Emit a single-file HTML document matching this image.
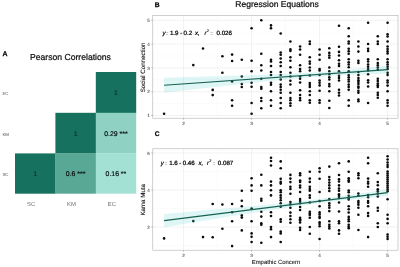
<!DOCTYPE html>
<html><head><meta charset="utf-8"><title>Figure</title>
<style>html,body{margin:0;padding:0;background:#fff;overflow:hidden}svg{display:block;will-change:transform}</style>
</head><body>
<svg width="400" height="267" viewBox="0 0 400 267" font-family="Liberation Sans, sans-serif" text-rendering="geometricPrecision">
<rect width="400" height="267" fill="#ffffff"/>
<text x="2.4" y="56" font-size="6.9" font-weight="bold" fill="#000" stroke="#000" stroke-width="0.25">A</text>
<text x="30" y="59.6" font-size="8.7" fill="#111" stroke="#111" stroke-width="0.24" textLength="80.9" lengthAdjust="spacingAndGlyphs">Pearson Correlations</text>
<rect x="95.8" y="72.0" width="40.4" height="41.0" fill="#16725e"/>
<text x="115.9" y="94.8" font-size="6.9" fill="#0a2f27" stroke="#0a2f27" stroke-width="0.12" text-anchor="middle">1</text>
<rect x="55.4" y="112.8" width="40.6" height="40.8" fill="#16725e"/>
<text x="75.6" y="135.5" font-size="6.9" fill="#0a2f27" stroke="#0a2f27" stroke-width="0.12" text-anchor="middle">1</text>
<rect x="95.8" y="112.8" width="40.4" height="40.8" fill="#8fd1c3"/>
<text x="115.9" y="135.5" font-size="6.9" fill="#0a100f" stroke="#0a100f" stroke-width="0.18" text-anchor="middle">0.29 ***</text>
<rect x="15.0" y="153.4" width="40.6" height="40.3" fill="#16725e"/>
<text x="35.2" y="175.8" font-size="6.9" fill="#0a2f27" stroke="#0a2f27" stroke-width="0.12" text-anchor="middle">1</text>
<rect x="55.4" y="153.4" width="40.6" height="40.3" fill="#59a895"/>
<text x="75.6" y="175.8" font-size="6.9" fill="#0a100f" stroke="#0a100f" stroke-width="0.18" text-anchor="middle">0.6 ***</text>
<rect x="95.8" y="153.4" width="40.4" height="40.3" fill="#a2e1d3"/>
<text x="115.9" y="175.8" font-size="6.9" fill="#0a100f" stroke="#0a100f" stroke-width="0.18" text-anchor="middle">0.16 **</text>
<text x="31.1" y="205.9" font-size="5.9" fill="#6e6e6e" text-anchor="middle">SC</text>
<text x="71.5" y="205.9" font-size="5.9" fill="#6e6e6e" text-anchor="middle">KM</text>
<text x="111.8" y="205.9" font-size="5.9" fill="#6e6e6e" text-anchor="middle">EC</text>
<text x="2.4" y="94.8" font-size="4.4" fill="#505050">EC</text>
<text x="2.4" y="135.5" font-size="4.4" fill="#505050">KM</text>
<text x="2.4" y="175.8" font-size="4.4" fill="#505050">SC</text>
<text x="154.7" y="6.8" font-size="6.7" font-weight="bold" fill="#000" stroke="#000" stroke-width="0.25">B</text>
<text x="235.3" y="7.3" font-size="8.5" fill="#111" stroke="#111" stroke-width="0.24" textLength="83.5" lengthAdjust="spacingAndGlyphs">Regression Equations</text>
<line x1="152.8" x2="398.0" y1="103.6" y2="103.6" stroke="#f4f4f4" stroke-width="0.4"/>
<line x1="152.8" x2="398.0" y1="79.8" y2="79.8" stroke="#f4f4f4" stroke-width="0.4"/>
<line x1="152.8" x2="398.0" y1="56.0" y2="56.0" stroke="#f4f4f4" stroke-width="0.4"/>
<line x1="152.8" x2="398.0" y1="32.2" y2="32.2" stroke="#f4f4f4" stroke-width="0.4"/>
<line x1="152.8" x2="398.0" y1="115.5" y2="115.5" stroke="#e9e9e9" stroke-width="0.6"/>
<line x1="152.8" x2="398.0" y1="91.7" y2="91.7" stroke="#e9e9e9" stroke-width="0.6"/>
<line x1="152.8" x2="398.0" y1="67.9" y2="67.9" stroke="#e9e9e9" stroke-width="0.6"/>
<line x1="152.8" x2="398.0" y1="44.1" y2="44.1" stroke="#e9e9e9" stroke-width="0.6"/>
<line x1="152.8" x2="398.0" y1="20.3" y2="20.3" stroke="#e9e9e9" stroke-width="0.6"/>
<line y1="15.5" y2="118.2" x1="217.6" x2="217.6" stroke="#f4f4f4" stroke-width="0.4"/>
<line y1="15.5" y2="118.2" x1="285.6" x2="285.6" stroke="#f4f4f4" stroke-width="0.4"/>
<line y1="15.5" y2="118.2" x1="353.6" x2="353.6" stroke="#f4f4f4" stroke-width="0.4"/>
<line y1="15.5" y2="118.2" x1="183.6" x2="183.6" stroke="#e9e9e9" stroke-width="0.6"/>
<line y1="15.5" y2="118.2" x1="251.6" x2="251.6" stroke="#e9e9e9" stroke-width="0.6"/>
<line y1="15.5" y2="118.2" x1="319.6" x2="319.6" stroke="#e9e9e9" stroke-width="0.6"/>
<line y1="15.5" y2="118.2" x1="387.6" x2="387.6" stroke="#e9e9e9" stroke-width="0.6"/>
<g fill="#0a0a0a"><circle cx="164.1" cy="113.8" r="1.3"/>
<circle cx="193.3" cy="65.1" r="1.3"/>
<circle cx="203.0" cy="48.5" r="1.3"/>
<circle cx="212.7" cy="89.9" r="1.3"/>
<circle cx="212.7" cy="95.1" r="1.3"/>
<circle cx="222.4" cy="56.3" r="1.3"/>
<circle cx="222.4" cy="72.8" r="1.3"/>
<circle cx="232.1" cy="54.6" r="1.3"/>
<circle cx="232.1" cy="61.0" r="1.3"/>
<circle cx="232.1" cy="81.4" r="1.3"/>
<circle cx="232.1" cy="100.3" r="1.3"/>
<circle cx="232.1" cy="105.8" r="1.3"/>
<circle cx="241.8" cy="59.7" r="1.3"/>
<circle cx="241.8" cy="76.5" r="1.3"/>
<circle cx="241.8" cy="84.0" r="1.3"/>
<circle cx="241.8" cy="87.0" r="1.3"/>
<circle cx="251.6" cy="28.3" r="1.3"/>
<circle cx="251.6" cy="60.8" r="1.3"/>
<circle cx="251.6" cy="71.2" r="1.3"/>
<circle cx="251.6" cy="82.8" r="1.3"/>
<circle cx="251.6" cy="86.7" r="1.3"/>
<circle cx="251.6" cy="103.0" r="1.3"/>
<circle cx="251.6" cy="113.8" r="1.3"/>
<circle cx="261.3" cy="20.3" r="1.3"/>
<circle cx="261.3" cy="53.7" r="1.3"/>
<circle cx="261.3" cy="65.2" r="1.3"/>
<circle cx="261.3" cy="70.5" r="1.3"/>
<circle cx="261.3" cy="78.8" r="1.3"/>
<circle cx="261.3" cy="87.0" r="1.3"/>
<circle cx="261.3" cy="88.7" r="1.3"/>
<circle cx="261.3" cy="98.0" r="1.3"/>
<circle cx="261.3" cy="101.0" r="1.3"/>
<circle cx="261.3" cy="108.2" r="1.3"/>
<circle cx="271.0" cy="25.4" r="1.3"/>
<circle cx="271.0" cy="28.3" r="1.3"/>
<circle cx="271.0" cy="59.7" r="1.3"/>
<circle cx="271.0" cy="61.5" r="1.3"/>
<circle cx="271.0" cy="66.0" r="1.3"/>
<circle cx="271.0" cy="72.0" r="1.3"/>
<circle cx="271.0" cy="75.0" r="1.3"/>
<circle cx="271.0" cy="82.8" r="1.3"/>
<circle cx="271.0" cy="84.8" r="1.3"/>
<circle cx="271.0" cy="91.2" r="1.3"/>
<circle cx="271.0" cy="100.2" r="1.3"/>
<circle cx="271.0" cy="105.8" r="1.3"/>
<circle cx="280.7" cy="33.5" r="1.3"/>
<circle cx="280.7" cy="52.5" r="1.3"/>
<circle cx="280.7" cy="54.8" r="1.3"/>
<circle cx="280.7" cy="58.5" r="1.3"/>
<circle cx="280.7" cy="62.2" r="1.3"/>
<circle cx="280.7" cy="66.0" r="1.3"/>
<circle cx="280.7" cy="72.0" r="1.3"/>
<circle cx="280.7" cy="75.0" r="1.3"/>
<circle cx="280.7" cy="79.5" r="1.3"/>
<circle cx="280.7" cy="84.6" r="1.3"/>
<circle cx="280.7" cy="87.0" r="1.3"/>
<circle cx="280.7" cy="89.8" r="1.3"/>
<circle cx="280.7" cy="92.8" r="1.3"/>
<circle cx="280.7" cy="98.0" r="1.3"/>
<circle cx="280.7" cy="103.0" r="1.3"/>
<circle cx="280.7" cy="108.2" r="1.3"/>
<circle cx="290.4" cy="41.5" r="1.3"/>
<circle cx="290.4" cy="49.4" r="1.3"/>
<circle cx="290.4" cy="51.0" r="1.3"/>
<circle cx="290.4" cy="57.3" r="1.3"/>
<circle cx="290.4" cy="60.8" r="1.3"/>
<circle cx="290.4" cy="67.2" r="1.3"/>
<circle cx="290.4" cy="72.8" r="1.3"/>
<circle cx="290.4" cy="76.5" r="1.3"/>
<circle cx="290.4" cy="80.7" r="1.3"/>
<circle cx="290.4" cy="84.5" r="1.3"/>
<circle cx="290.4" cy="92.8" r="1.3"/>
<circle cx="290.4" cy="98.0" r="1.3"/>
<circle cx="290.4" cy="100.2" r="1.3"/>
<circle cx="290.4" cy="103.2" r="1.3"/>
<circle cx="290.4" cy="105.8" r="1.3"/>
<circle cx="300.1" cy="46.5" r="1.3"/>
<circle cx="300.1" cy="49.5" r="1.3"/>
<circle cx="300.1" cy="54.8" r="1.3"/>
<circle cx="300.1" cy="65.2" r="1.3"/>
<circle cx="300.1" cy="69.0" r="1.3"/>
<circle cx="300.1" cy="71.2" r="1.3"/>
<circle cx="300.1" cy="76.5" r="1.3"/>
<circle cx="300.1" cy="78.8" r="1.3"/>
<circle cx="300.1" cy="82.5" r="1.3"/>
<circle cx="300.1" cy="90.2" r="1.3"/>
<circle cx="300.1" cy="95.0" r="1.3"/>
<circle cx="300.1" cy="98.0" r="1.3"/>
<circle cx="300.1" cy="100.2" r="1.3"/>
<circle cx="309.8" cy="41.5" r="1.3"/>
<circle cx="309.8" cy="44.0" r="1.3"/>
<circle cx="309.8" cy="57.3" r="1.3"/>
<circle cx="309.8" cy="61.5" r="1.3"/>
<circle cx="309.8" cy="63.8" r="1.3"/>
<circle cx="309.8" cy="67.5" r="1.3"/>
<circle cx="309.8" cy="70.5" r="1.3"/>
<circle cx="309.8" cy="75.5" r="1.3"/>
<circle cx="309.8" cy="83.1" r="1.3"/>
<circle cx="309.8" cy="85.0" r="1.3"/>
<circle cx="309.8" cy="87.0" r="1.3"/>
<circle cx="309.8" cy="91.2" r="1.3"/>
<circle cx="309.8" cy="95.0" r="1.3"/>
<circle cx="309.8" cy="100.2" r="1.3"/>
<circle cx="309.8" cy="102.8" r="1.3"/>
<circle cx="319.6" cy="49.5" r="1.3"/>
<circle cx="319.6" cy="54.8" r="1.3"/>
<circle cx="319.6" cy="59.7" r="1.3"/>
<circle cx="319.6" cy="69.0" r="1.3"/>
<circle cx="319.6" cy="70.5" r="1.3"/>
<circle cx="319.6" cy="75.0" r="1.3"/>
<circle cx="319.6" cy="80.5" r="1.3"/>
<circle cx="319.6" cy="82.8" r="1.3"/>
<circle cx="319.6" cy="85.4" r="1.3"/>
<circle cx="319.6" cy="90.8" r="1.3"/>
<circle cx="319.6" cy="100.2" r="1.3"/>
<circle cx="319.6" cy="102.8" r="1.3"/>
<circle cx="329.3" cy="48.2" r="1.3"/>
<circle cx="329.3" cy="52.9" r="1.3"/>
<circle cx="329.3" cy="55.5" r="1.3"/>
<circle cx="329.3" cy="57.8" r="1.3"/>
<circle cx="329.3" cy="67.5" r="1.3"/>
<circle cx="329.3" cy="71.2" r="1.3"/>
<circle cx="329.3" cy="74.2" r="1.3"/>
<circle cx="329.3" cy="77.2" r="1.3"/>
<circle cx="329.3" cy="79.5" r="1.3"/>
<circle cx="329.3" cy="84.0" r="1.3"/>
<circle cx="329.3" cy="86.2" r="1.3"/>
<circle cx="329.3" cy="91.2" r="1.3"/>
<circle cx="329.3" cy="100.7" r="1.3"/>
<circle cx="329.3" cy="108.0" r="1.3"/>
<circle cx="339.0" cy="25.7" r="1.3"/>
<circle cx="339.0" cy="46.7" r="1.3"/>
<circle cx="339.0" cy="51.9" r="1.3"/>
<circle cx="339.0" cy="55.5" r="1.3"/>
<circle cx="339.0" cy="60.3" r="1.3"/>
<circle cx="339.0" cy="63.8" r="1.3"/>
<circle cx="339.0" cy="66.0" r="1.3"/>
<circle cx="339.0" cy="71.2" r="1.3"/>
<circle cx="339.0" cy="75.8" r="1.3"/>
<circle cx="339.0" cy="78.0" r="1.3"/>
<circle cx="339.0" cy="80.5" r="1.3"/>
<circle cx="339.0" cy="89.8" r="1.3"/>
<circle cx="339.0" cy="92.8" r="1.3"/>
<circle cx="339.0" cy="95.5" r="1.3"/>
<circle cx="348.7" cy="28.2" r="1.3"/>
<circle cx="348.7" cy="36.2" r="1.3"/>
<circle cx="348.7" cy="41.5" r="1.3"/>
<circle cx="348.7" cy="43.5" r="1.3"/>
<circle cx="348.7" cy="48.8" r="1.3"/>
<circle cx="348.7" cy="51.2" r="1.3"/>
<circle cx="348.7" cy="53.8" r="1.3"/>
<circle cx="348.7" cy="59.2" r="1.3"/>
<circle cx="348.7" cy="62.2" r="1.3"/>
<circle cx="348.7" cy="64.5" r="1.3"/>
<circle cx="348.7" cy="67.2" r="1.3"/>
<circle cx="348.7" cy="71.2" r="1.3"/>
<circle cx="348.7" cy="75.0" r="1.3"/>
<circle cx="348.7" cy="77.2" r="1.3"/>
<circle cx="348.7" cy="79.5" r="1.3"/>
<circle cx="348.7" cy="81.5" r="1.3"/>
<circle cx="348.7" cy="84.6" r="1.3"/>
<circle cx="348.7" cy="86.9" r="1.3"/>
<circle cx="348.7" cy="89.8" r="1.3"/>
<circle cx="348.7" cy="100.2" r="1.3"/>
<circle cx="348.7" cy="105.8" r="1.3"/>
<circle cx="358.4" cy="41.5" r="1.3"/>
<circle cx="358.4" cy="46.5" r="1.3"/>
<circle cx="358.4" cy="51.6" r="1.3"/>
<circle cx="358.4" cy="60.8" r="1.3"/>
<circle cx="358.4" cy="63.0" r="1.3"/>
<circle cx="358.4" cy="72.0" r="1.3"/>
<circle cx="358.4" cy="75.0" r="1.3"/>
<circle cx="358.4" cy="78.0" r="1.3"/>
<circle cx="358.4" cy="80.2" r="1.3"/>
<circle cx="358.4" cy="82.0" r="1.3"/>
<circle cx="358.4" cy="84.0" r="1.3"/>
<circle cx="358.4" cy="86.5" r="1.3"/>
<circle cx="358.4" cy="87.8" r="1.3"/>
<circle cx="358.4" cy="90.8" r="1.3"/>
<circle cx="358.4" cy="92.8" r="1.3"/>
<circle cx="358.4" cy="99.5" r="1.3"/>
<circle cx="358.4" cy="101.3" r="1.3"/>
<circle cx="368.1" cy="22.7" r="1.3"/>
<circle cx="368.1" cy="44.0" r="1.3"/>
<circle cx="368.1" cy="48.8" r="1.3"/>
<circle cx="368.1" cy="51.0" r="1.3"/>
<circle cx="368.1" cy="59.2" r="1.3"/>
<circle cx="368.1" cy="61.5" r="1.3"/>
<circle cx="368.1" cy="64.5" r="1.3"/>
<circle cx="368.1" cy="66.8" r="1.3"/>
<circle cx="368.1" cy="69.0" r="1.3"/>
<circle cx="368.1" cy="70.5" r="1.3"/>
<circle cx="368.1" cy="74.2" r="1.3"/>
<circle cx="368.1" cy="80.2" r="1.3"/>
<circle cx="368.1" cy="82.5" r="1.3"/>
<circle cx="368.1" cy="86.5" r="1.3"/>
<circle cx="368.1" cy="103.0" r="1.3"/>
<circle cx="377.8" cy="36.2" r="1.3"/>
<circle cx="377.8" cy="41.5" r="1.3"/>
<circle cx="377.8" cy="44.0" r="1.3"/>
<circle cx="377.8" cy="59.2" r="1.3"/>
<circle cx="377.8" cy="63.0" r="1.3"/>
<circle cx="377.8" cy="65.2" r="1.3"/>
<circle cx="377.8" cy="67.5" r="1.3"/>
<circle cx="377.8" cy="69.8" r="1.3"/>
<circle cx="377.8" cy="78.8" r="1.3"/>
<circle cx="377.8" cy="81.0" r="1.3"/>
<circle cx="377.8" cy="83.5" r="1.3"/>
<circle cx="377.8" cy="85.2" r="1.3"/>
<circle cx="377.8" cy="87.0" r="1.3"/>
<circle cx="377.8" cy="92.8" r="1.3"/>
<circle cx="377.8" cy="95.0" r="1.3"/>
<circle cx="377.8" cy="97.7" r="1.3"/>
<circle cx="387.6" cy="22.7" r="1.3"/>
<circle cx="387.6" cy="34.2" r="1.3"/>
<circle cx="387.6" cy="36.5" r="1.3"/>
<circle cx="387.6" cy="41.5" r="1.3"/>
<circle cx="387.6" cy="46.5" r="1.3"/>
<circle cx="387.6" cy="49.0" r="1.3"/>
<circle cx="387.6" cy="51.2" r="1.3"/>
<circle cx="387.6" cy="53.4" r="1.3"/>
<circle cx="387.6" cy="59.2" r="1.3"/>
<circle cx="387.6" cy="62.2" r="1.3"/>
<circle cx="387.6" cy="64.5" r="1.3"/>
<circle cx="387.6" cy="66.8" r="1.3"/>
<circle cx="387.6" cy="69.0" r="1.3"/>
<circle cx="387.6" cy="72.8" r="1.3"/>
<circle cx="387.6" cy="75.0" r="1.3"/>
<circle cx="387.6" cy="80.5" r="1.3"/>
<circle cx="387.6" cy="82.5" r="1.3"/>
<circle cx="387.6" cy="85.6" r="1.3"/>
<circle cx="387.6" cy="91.2" r="1.3"/>
<circle cx="387.6" cy="100.2" r="1.3"/>
<circle cx="387.6" cy="102.8" r="1.3"/>
<circle cx="387.6" cy="105.8" r="1.3"/></g>
<path d="M164.1,77.7 L169.7,77.6 L175.3,77.4 L180.9,77.3 L186.4,77.1 L192.0,77.0 L197.6,76.8 L203.2,76.6 L208.8,76.5 L214.4,76.3 L220.0,76.2 L225.6,76.0 L231.1,75.8 L236.7,75.6 L242.3,75.5 L247.9,75.3 L253.5,75.1 L259.1,74.9 L264.7,74.7 L270.2,74.5 L275.8,74.3 L281.4,74.0 L287.0,73.8 L292.6,73.5 L298.2,73.2 L303.8,72.9 L309.3,72.6 L314.9,72.2 L320.5,71.9 L326.1,71.4 L331.7,71.0 L337.3,70.5 L342.9,70.1 L348.4,69.6 L354.0,69.0 L359.6,68.5 L365.2,67.9 L370.8,67.4 L376.4,66.8 L382.0,66.2 L387.6,65.6 L387.6,73.5 L382.0,73.7 L376.4,73.9 L370.8,74.1 L365.2,74.3 L359.6,74.5 L354.0,74.8 L348.4,75.0 L342.9,75.3 L337.3,75.6 L331.7,75.9 L326.1,76.3 L320.5,76.7 L314.9,77.1 L309.3,77.5 L303.8,77.9 L298.2,78.4 L292.6,78.9 L287.0,79.4 L281.4,80.0 L275.8,80.5 L270.2,81.1 L264.7,81.6 L259.1,82.2 L253.5,82.8 L247.9,83.4 L242.3,84.0 L236.7,84.6 L231.1,85.2 L225.6,85.8 L220.0,86.4 L214.4,87.1 L208.8,87.7 L203.2,88.3 L197.6,88.9 L192.0,89.6 L186.4,90.2 L180.9,90.8 L175.3,91.4 L169.7,92.1 L164.1,92.7Z" fill="#58d8d0" fill-opacity="0.2"/>
<line x1="164.1" y1="85.2" x2="387.6" y2="69.6" stroke="#17604f" stroke-width="1.1"/>
<rect x="152.8" y="15.5" width="245.2" height="102.7" fill="none" stroke="#aaaaaa" stroke-width="0.55"/>
<line x1="151.20000000000002" x2="152.8" y1="115.5" y2="115.5" stroke="#8a8a8a" stroke-width="0.5"/>
<text x="149.8" y="117.2" font-size="4.6" fill="#444" stroke="#444" stroke-width="0.06" text-anchor="end">1</text>
<line x1="151.20000000000002" x2="152.8" y1="91.7" y2="91.7" stroke="#8a8a8a" stroke-width="0.5"/>
<text x="149.8" y="93.4" font-size="4.6" fill="#444" stroke="#444" stroke-width="0.06" text-anchor="end">2</text>
<line x1="151.20000000000002" x2="152.8" y1="67.9" y2="67.9" stroke="#8a8a8a" stroke-width="0.5"/>
<text x="149.8" y="69.6" font-size="4.6" fill="#444" stroke="#444" stroke-width="0.06" text-anchor="end">3</text>
<line x1="151.20000000000002" x2="152.8" y1="44.1" y2="44.1" stroke="#8a8a8a" stroke-width="0.5"/>
<text x="149.8" y="45.7" font-size="4.6" fill="#444" stroke="#444" stroke-width="0.06" text-anchor="end">4</text>
<line x1="151.20000000000002" x2="152.8" y1="20.3" y2="20.3" stroke="#8a8a8a" stroke-width="0.5"/>
<text x="149.8" y="21.9" font-size="4.6" fill="#444" stroke="#444" stroke-width="0.06" text-anchor="end">5</text>
<line y1="118.2" y2="119.8" x1="183.6" x2="183.6" stroke="#8a8a8a" stroke-width="0.5"/>
<text x="183.6" y="124.8" font-size="4.6" fill="#444" stroke="#444" stroke-width="0.06" text-anchor="middle">2</text>
<line y1="118.2" y2="119.8" x1="251.6" x2="251.6" stroke="#8a8a8a" stroke-width="0.5"/>
<text x="251.6" y="124.8" font-size="4.6" fill="#444" stroke="#444" stroke-width="0.06" text-anchor="middle">3</text>
<line y1="118.2" y2="119.8" x1="319.6" x2="319.6" stroke="#8a8a8a" stroke-width="0.5"/>
<text x="319.6" y="124.8" font-size="4.6" fill="#444" stroke="#444" stroke-width="0.06" text-anchor="middle">4</text>
<line y1="118.2" y2="119.8" x1="387.6" x2="387.6" stroke="#8a8a8a" stroke-width="0.5"/>
<text x="387.6" y="124.8" font-size="4.6" fill="#444" stroke="#444" stroke-width="0.06" text-anchor="middle">5</text>
<g font-size="6" fill="#000"><text x="162.4" y="34.9" font-style="italic" stroke="#000" stroke-width="0.18">y</text><text x="165.7" y="34.6" font-size="4.6" fill="#3a3a3a">=</text><text x="169.9" y="34.9" font-size="6.2" stroke="#000" stroke-width="0.22">1.9</text><text x="179.7" y="34.6" font-size="4.6" fill="#3a3a3a">+</text><text x="183.6" y="34.9" font-size="6.2" stroke="#000" stroke-width="0.22">0.2</text><text x="192.2" y="34.6" font-size="4.6" fill="#3a3a3a">·</text><text x="194.9" y="34.9" font-style="italic" stroke="#000" stroke-width="0.18">x,</text><text x="204.6" y="34.9" font-style="italic" stroke="#000" stroke-width="0.18">r</text><text x="206.8" y="32.4" font-size="3.9" stroke="#000" stroke-width="0.08">2</text><text x="210.3" y="34.6" font-size="4.6" fill="#3a3a3a">=</text><text x="232" y="34.9" text-anchor="end" font-size="6.2" stroke="#000" stroke-width="0.22">0.026</text></g>
<text transform="translate(145.0,67.4) rotate(-90)" font-size="6.2" fill="#111" stroke="#111" stroke-width="0.1" text-anchor="middle">Social Connection</text>
<text x="154.7" y="135.5" font-size="6.7" font-weight="bold" fill="#000" stroke="#000" stroke-width="0.25">C</text>
<line x1="152.8" x2="398.0" y1="245.5" y2="245.5" stroke="#f4f4f4" stroke-width="0.4"/>
<line x1="152.8" x2="398.0" y1="208.5" y2="208.5" stroke="#f4f4f4" stroke-width="0.4"/>
<line x1="152.8" x2="398.0" y1="171.5" y2="171.5" stroke="#f4f4f4" stroke-width="0.4"/>
<line x1="152.8" x2="398.0" y1="227.0" y2="227.0" stroke="#e9e9e9" stroke-width="0.6"/>
<line x1="152.8" x2="398.0" y1="190.0" y2="190.0" stroke="#e9e9e9" stroke-width="0.6"/>
<line x1="152.8" x2="398.0" y1="153.0" y2="153.0" stroke="#e9e9e9" stroke-width="0.6"/>
<line y1="148.8" y2="250.2" x1="217.6" x2="217.6" stroke="#f4f4f4" stroke-width="0.4"/>
<line y1="148.8" y2="250.2" x1="285.6" x2="285.6" stroke="#f4f4f4" stroke-width="0.4"/>
<line y1="148.8" y2="250.2" x1="353.6" x2="353.6" stroke="#f4f4f4" stroke-width="0.4"/>
<line y1="148.8" y2="250.2" x1="183.6" x2="183.6" stroke="#e9e9e9" stroke-width="0.6"/>
<line y1="148.8" y2="250.2" x1="251.6" x2="251.6" stroke="#e9e9e9" stroke-width="0.6"/>
<line y1="148.8" y2="250.2" x1="319.6" x2="319.6" stroke="#e9e9e9" stroke-width="0.6"/>
<line y1="148.8" y2="250.2" x1="387.6" x2="387.6" stroke="#e9e9e9" stroke-width="0.6"/>
<g fill="#0a0a0a"><circle cx="164.1" cy="238.4" r="1.3"/>
<circle cx="193.3" cy="221.1" r="1.3"/>
<circle cx="203.0" cy="237.1" r="1.3"/>
<circle cx="212.7" cy="204.0" r="1.3"/>
<circle cx="212.7" cy="237.3" r="1.3"/>
<circle cx="222.4" cy="204.5" r="1.3"/>
<circle cx="222.4" cy="228.8" r="1.3"/>
<circle cx="232.1" cy="204.0" r="1.3"/>
<circle cx="232.1" cy="212.3" r="1.3"/>
<circle cx="232.1" cy="221.2" r="1.3"/>
<circle cx="232.1" cy="246.1" r="1.3"/>
<circle cx="241.8" cy="190.8" r="1.3"/>
<circle cx="241.8" cy="200.7" r="1.3"/>
<circle cx="241.8" cy="206.2" r="1.3"/>
<circle cx="241.8" cy="215.4" r="1.3"/>
<circle cx="241.8" cy="217.6" r="1.3"/>
<circle cx="241.8" cy="230.4" r="1.3"/>
<circle cx="251.6" cy="178.2" r="1.3"/>
<circle cx="251.6" cy="185.4" r="1.3"/>
<circle cx="251.6" cy="190.8" r="1.3"/>
<circle cx="251.6" cy="208.5" r="1.3"/>
<circle cx="251.6" cy="221.3" r="1.3"/>
<circle cx="251.6" cy="233.4" r="1.3"/>
<circle cx="251.6" cy="236.8" r="1.3"/>
<circle cx="251.6" cy="242.0" r="1.3"/>
<circle cx="261.3" cy="174.8" r="1.3"/>
<circle cx="261.3" cy="185.4" r="1.3"/>
<circle cx="261.3" cy="198.8" r="1.3"/>
<circle cx="261.3" cy="200.7" r="1.3"/>
<circle cx="261.3" cy="211.8" r="1.3"/>
<circle cx="261.3" cy="216.6" r="1.3"/>
<circle cx="261.3" cy="223.2" r="1.3"/>
<circle cx="261.3" cy="224.8" r="1.3"/>
<circle cx="261.3" cy="242.8" r="1.3"/>
<circle cx="271.0" cy="157.7" r="1.3"/>
<circle cx="271.0" cy="161.0" r="1.3"/>
<circle cx="271.0" cy="165.5" r="1.3"/>
<circle cx="271.0" cy="181.6" r="1.3"/>
<circle cx="271.0" cy="185.4" r="1.3"/>
<circle cx="271.0" cy="190.2" r="1.3"/>
<circle cx="271.0" cy="195.4" r="1.3"/>
<circle cx="271.0" cy="212.2" r="1.3"/>
<circle cx="271.0" cy="216.0" r="1.3"/>
<circle cx="271.0" cy="227.0" r="1.3"/>
<circle cx="271.0" cy="229.2" r="1.3"/>
<circle cx="271.0" cy="237.1" r="1.3"/>
<circle cx="280.7" cy="161.4" r="1.3"/>
<circle cx="280.7" cy="168.2" r="1.3"/>
<circle cx="280.7" cy="178.7" r="1.3"/>
<circle cx="280.7" cy="181.9" r="1.3"/>
<circle cx="280.7" cy="183.6" r="1.3"/>
<circle cx="280.7" cy="190.2" r="1.3"/>
<circle cx="280.7" cy="192.3" r="1.3"/>
<circle cx="280.7" cy="195.4" r="1.3"/>
<circle cx="280.7" cy="197.7" r="1.3"/>
<circle cx="280.7" cy="200.2" r="1.3"/>
<circle cx="280.7" cy="203.2" r="1.3"/>
<circle cx="280.7" cy="206.7" r="1.3"/>
<circle cx="280.7" cy="219.4" r="1.3"/>
<circle cx="280.7" cy="221.8" r="1.3"/>
<circle cx="280.7" cy="231.5" r="1.3"/>
<circle cx="280.7" cy="233.4" r="1.3"/>
<circle cx="280.7" cy="242.0" r="1.3"/>
<circle cx="290.4" cy="174.9" r="1.3"/>
<circle cx="290.4" cy="178.6" r="1.3"/>
<circle cx="290.4" cy="182.1" r="1.3"/>
<circle cx="290.4" cy="186.8" r="1.3"/>
<circle cx="290.4" cy="189.0" r="1.3"/>
<circle cx="290.4" cy="193.8" r="1.3"/>
<circle cx="290.4" cy="202.1" r="1.3"/>
<circle cx="290.4" cy="204.3" r="1.3"/>
<circle cx="290.4" cy="207.8" r="1.3"/>
<circle cx="290.4" cy="212.6" r="1.3"/>
<circle cx="290.4" cy="216.0" r="1.3"/>
<circle cx="290.4" cy="219.3" r="1.3"/>
<circle cx="290.4" cy="222.7" r="1.3"/>
<circle cx="300.1" cy="173.3" r="1.3"/>
<circle cx="300.1" cy="175.2" r="1.3"/>
<circle cx="300.1" cy="180.5" r="1.3"/>
<circle cx="300.1" cy="182.0" r="1.3"/>
<circle cx="300.1" cy="185.5" r="1.3"/>
<circle cx="300.1" cy="187.5" r="1.3"/>
<circle cx="300.1" cy="192.0" r="1.3"/>
<circle cx="300.1" cy="199.1" r="1.3"/>
<circle cx="300.1" cy="201.0" r="1.3"/>
<circle cx="300.1" cy="203.2" r="1.3"/>
<circle cx="300.1" cy="207.0" r="1.3"/>
<circle cx="300.1" cy="210.0" r="1.3"/>
<circle cx="300.1" cy="217.7" r="1.3"/>
<circle cx="300.1" cy="219.3" r="1.3"/>
<circle cx="300.1" cy="220.5" r="1.3"/>
<circle cx="300.1" cy="222.5" r="1.3"/>
<circle cx="300.1" cy="227.8" r="1.3"/>
<circle cx="300.1" cy="230.0" r="1.3"/>
<circle cx="309.8" cy="171.8" r="1.3"/>
<circle cx="309.8" cy="178.6" r="1.3"/>
<circle cx="309.8" cy="181.9" r="1.3"/>
<circle cx="309.8" cy="186.8" r="1.3"/>
<circle cx="309.8" cy="189.0" r="1.3"/>
<circle cx="309.8" cy="190.8" r="1.3"/>
<circle cx="309.8" cy="195.4" r="1.3"/>
<circle cx="309.8" cy="197.7" r="1.3"/>
<circle cx="309.8" cy="202.5" r="1.3"/>
<circle cx="309.8" cy="211.8" r="1.3"/>
<circle cx="309.8" cy="213.5" r="1.3"/>
<circle cx="309.8" cy="214.9" r="1.3"/>
<circle cx="309.8" cy="217.7" r="1.3"/>
<circle cx="309.8" cy="227.0" r="1.3"/>
<circle cx="309.8" cy="233.8" r="1.3"/>
<circle cx="319.6" cy="168.2" r="1.3"/>
<circle cx="319.6" cy="171.8" r="1.3"/>
<circle cx="319.6" cy="178.7" r="1.3"/>
<circle cx="319.6" cy="192.0" r="1.3"/>
<circle cx="319.6" cy="201.0" r="1.3"/>
<circle cx="319.6" cy="206.2" r="1.3"/>
<circle cx="319.6" cy="212.4" r="1.3"/>
<circle cx="319.6" cy="214.4" r="1.3"/>
<circle cx="319.6" cy="216.8" r="1.3"/>
<circle cx="319.6" cy="218.0" r="1.3"/>
<circle cx="319.6" cy="222.2" r="1.3"/>
<circle cx="319.6" cy="224.0" r="1.3"/>
<circle cx="319.6" cy="226.2" r="1.3"/>
<circle cx="319.6" cy="239.0" r="1.3"/>
<circle cx="329.3" cy="166.6" r="1.3"/>
<circle cx="329.3" cy="177.0" r="1.3"/>
<circle cx="329.3" cy="179.8" r="1.3"/>
<circle cx="329.3" cy="182.6" r="1.3"/>
<circle cx="329.3" cy="185.4" r="1.3"/>
<circle cx="329.3" cy="188.2" r="1.3"/>
<circle cx="329.3" cy="191.0" r="1.3"/>
<circle cx="329.3" cy="199.1" r="1.3"/>
<circle cx="329.3" cy="203.2" r="1.3"/>
<circle cx="329.3" cy="205.5" r="1.3"/>
<circle cx="329.3" cy="207.8" r="1.3"/>
<circle cx="329.3" cy="211.1" r="1.3"/>
<circle cx="329.3" cy="221.3" r="1.3"/>
<circle cx="329.3" cy="224.8" r="1.3"/>
<circle cx="329.3" cy="226.7" r="1.3"/>
<circle cx="329.3" cy="228.5" r="1.3"/>
<circle cx="339.0" cy="163.2" r="1.3"/>
<circle cx="339.0" cy="175.0" r="1.3"/>
<circle cx="339.0" cy="179.3" r="1.3"/>
<circle cx="339.0" cy="181.5" r="1.3"/>
<circle cx="339.0" cy="185.4" r="1.3"/>
<circle cx="339.0" cy="188.5" r="1.3"/>
<circle cx="339.0" cy="190.8" r="1.3"/>
<circle cx="339.0" cy="194.2" r="1.3"/>
<circle cx="339.0" cy="196.0" r="1.3"/>
<circle cx="339.0" cy="198.0" r="1.3"/>
<circle cx="339.0" cy="202.5" r="1.3"/>
<circle cx="339.0" cy="211.5" r="1.3"/>
<circle cx="339.0" cy="221.3" r="1.3"/>
<circle cx="339.0" cy="223.2" r="1.3"/>
<circle cx="339.0" cy="230.4" r="1.3"/>
<circle cx="339.0" cy="233.8" r="1.3"/>
<circle cx="348.7" cy="161.4" r="1.3"/>
<circle cx="348.7" cy="171.8" r="1.3"/>
<circle cx="348.7" cy="178.2" r="1.3"/>
<circle cx="348.7" cy="180.2" r="1.3"/>
<circle cx="348.7" cy="181.8" r="1.3"/>
<circle cx="348.7" cy="190.5" r="1.3"/>
<circle cx="348.7" cy="192.3" r="1.3"/>
<circle cx="348.7" cy="195.8" r="1.3"/>
<circle cx="348.7" cy="198.0" r="1.3"/>
<circle cx="348.7" cy="199.5" r="1.3"/>
<circle cx="348.7" cy="206.2" r="1.3"/>
<circle cx="348.7" cy="209.2" r="1.3"/>
<circle cx="348.7" cy="212.5" r="1.3"/>
<circle cx="348.7" cy="216.9" r="1.3"/>
<circle cx="348.7" cy="219.2" r="1.3"/>
<circle cx="348.7" cy="221.3" r="1.3"/>
<circle cx="348.7" cy="224.8" r="1.3"/>
<circle cx="348.7" cy="226.7" r="1.3"/>
<circle cx="348.7" cy="228.2" r="1.3"/>
<circle cx="358.4" cy="173.3" r="1.3"/>
<circle cx="358.4" cy="175.2" r="1.3"/>
<circle cx="358.4" cy="178.2" r="1.3"/>
<circle cx="358.4" cy="193.5" r="1.3"/>
<circle cx="358.4" cy="195.8" r="1.3"/>
<circle cx="358.4" cy="201.0" r="1.3"/>
<circle cx="358.4" cy="202.8" r="1.3"/>
<circle cx="358.4" cy="204.8" r="1.3"/>
<circle cx="358.4" cy="207.8" r="1.3"/>
<circle cx="358.4" cy="214.8" r="1.3"/>
<circle cx="358.4" cy="230.0" r="1.3"/>
<circle cx="368.1" cy="157.7" r="1.3"/>
<circle cx="368.1" cy="163.2" r="1.3"/>
<circle cx="368.1" cy="178.6" r="1.3"/>
<circle cx="368.1" cy="181.8" r="1.3"/>
<circle cx="368.1" cy="183.6" r="1.3"/>
<circle cx="368.1" cy="186.8" r="1.3"/>
<circle cx="368.1" cy="195.0" r="1.3"/>
<circle cx="368.1" cy="197.2" r="1.3"/>
<circle cx="368.1" cy="201.0" r="1.3"/>
<circle cx="368.1" cy="202.8" r="1.3"/>
<circle cx="368.1" cy="206.2" r="1.3"/>
<circle cx="368.1" cy="213.1" r="1.3"/>
<circle cx="368.1" cy="215.9" r="1.3"/>
<circle cx="368.1" cy="237.1" r="1.3"/>
<circle cx="377.8" cy="173.3" r="1.3"/>
<circle cx="377.8" cy="182.1" r="1.3"/>
<circle cx="377.8" cy="185.3" r="1.3"/>
<circle cx="377.8" cy="189.3" r="1.3"/>
<circle cx="377.8" cy="191.2" r="1.3"/>
<circle cx="377.8" cy="193.5" r="1.3"/>
<circle cx="377.8" cy="196.5" r="1.3"/>
<circle cx="377.8" cy="207.8" r="1.3"/>
<circle cx="377.8" cy="210.8" r="1.3"/>
<circle cx="377.8" cy="223.2" r="1.3"/>
<circle cx="377.8" cy="227.0" r="1.3"/>
<circle cx="387.6" cy="156.2" r="1.3"/>
<circle cx="387.6" cy="159.5" r="1.3"/>
<circle cx="387.6" cy="162.5" r="1.3"/>
<circle cx="387.6" cy="165.1" r="1.3"/>
<circle cx="387.6" cy="167.0" r="1.3"/>
<circle cx="387.6" cy="171.5" r="1.3"/>
<circle cx="387.6" cy="173.5" r="1.3"/>
<circle cx="387.6" cy="175.5" r="1.3"/>
<circle cx="387.6" cy="177.5" r="1.3"/>
<circle cx="387.6" cy="179.5" r="1.3"/>
<circle cx="387.6" cy="181.5" r="1.3"/>
<circle cx="387.6" cy="183.5" r="1.3"/>
<circle cx="387.6" cy="185.5" r="1.3"/>
<circle cx="387.6" cy="187.5" r="1.3"/>
<circle cx="387.6" cy="189.5" r="1.3"/>
<circle cx="387.6" cy="191.3" r="1.3"/>
<circle cx="387.6" cy="199.2" r="1.3"/>
<circle cx="387.6" cy="214.7" r="1.3"/>
<circle cx="387.6" cy="218.9" r="1.3"/>
<circle cx="387.6" cy="223.2" r="1.3"/>
<circle cx="387.6" cy="234.5" r="1.3"/>
<circle cx="387.6" cy="236.8" r="1.3"/>
<circle cx="387.6" cy="239.0" r="1.3"/></g>
<path d="M164.1,213.9 L169.7,213.4 L175.3,212.9 L180.9,212.4 L186.4,212.0 L192.0,211.5 L197.6,211.0 L203.2,210.5 L208.8,210.0 L214.4,209.5 L220.0,209.0 L225.6,208.5 L231.1,208.0 L236.7,207.5 L242.3,207.0 L247.9,206.5 L253.5,205.9 L259.1,205.4 L264.7,204.9 L270.2,204.3 L275.8,203.8 L281.4,203.2 L287.0,202.7 L292.6,202.1 L298.2,201.5 L303.8,200.8 L309.3,200.2 L314.9,199.5 L320.5,198.8 L326.1,198.1 L331.7,197.4 L337.3,196.6 L342.9,195.8 L348.4,195.0 L354.0,194.2 L359.6,193.4 L365.2,192.6 L370.8,191.7 L376.4,190.8 L382.0,190.0 L387.6,189.1 L387.6,196.1 L382.0,196.6 L376.4,197.1 L370.8,197.7 L365.2,198.2 L359.6,198.8 L354.0,199.3 L348.4,199.9 L342.9,200.5 L337.3,201.1 L331.7,201.8 L326.1,202.4 L320.5,203.1 L314.9,203.8 L309.3,204.6 L303.8,205.3 L298.2,206.1 L292.6,206.9 L287.0,207.7 L281.4,208.5 L275.8,209.3 L270.2,210.2 L264.7,211.1 L259.1,211.9 L253.5,212.8 L247.9,213.7 L242.3,214.6 L236.7,215.4 L231.1,216.3 L225.6,217.2 L220.0,218.1 L214.4,219.0 L208.8,219.9 L203.2,220.8 L197.6,221.7 L192.0,222.7 L186.4,223.6 L180.9,224.5 L175.3,225.4 L169.7,226.3 L164.1,227.2Z" fill="#58d8d0" fill-opacity="0.2"/>
<line x1="164.1" y1="220.6" x2="387.6" y2="192.6" stroke="#17604f" stroke-width="1.1"/>
<rect x="152.8" y="148.8" width="245.2" height="101.39999999999998" fill="none" stroke="#aaaaaa" stroke-width="0.55"/>
<line x1="151.20000000000002" x2="152.8" y1="227.0" y2="227.0" stroke="#8a8a8a" stroke-width="0.5"/>
<text x="149.8" y="228.7" font-size="4.6" fill="#444" stroke="#444" stroke-width="0.06" text-anchor="end">2</text>
<line x1="151.20000000000002" x2="152.8" y1="190.0" y2="190.0" stroke="#8a8a8a" stroke-width="0.5"/>
<text x="149.8" y="191.7" font-size="4.6" fill="#444" stroke="#444" stroke-width="0.06" text-anchor="end">4</text>
<line x1="151.20000000000002" x2="152.8" y1="153.0" y2="153.0" stroke="#8a8a8a" stroke-width="0.5"/>
<text x="149.8" y="154.7" font-size="4.6" fill="#444" stroke="#444" stroke-width="0.06" text-anchor="end">6</text>
<line y1="250.2" y2="251.79999999999998" x1="183.6" x2="183.6" stroke="#8a8a8a" stroke-width="0.5"/>
<text x="183.6" y="256.8" font-size="4.6" fill="#444" stroke="#444" stroke-width="0.06" text-anchor="middle">2</text>
<line y1="250.2" y2="251.79999999999998" x1="251.6" x2="251.6" stroke="#8a8a8a" stroke-width="0.5"/>
<text x="251.6" y="256.8" font-size="4.6" fill="#444" stroke="#444" stroke-width="0.06" text-anchor="middle">3</text>
<line y1="250.2" y2="251.79999999999998" x1="319.6" x2="319.6" stroke="#8a8a8a" stroke-width="0.5"/>
<text x="319.6" y="256.8" font-size="4.6" fill="#444" stroke="#444" stroke-width="0.06" text-anchor="middle">4</text>
<line y1="250.2" y2="251.79999999999998" x1="387.6" x2="387.6" stroke="#8a8a8a" stroke-width="0.5"/>
<text x="387.6" y="256.8" font-size="4.6" fill="#444" stroke="#444" stroke-width="0.06" text-anchor="middle">5</text>
<g font-size="6" fill="#000"><text x="160.8" y="164.8" font-style="italic" stroke="#000" stroke-width="0.18">y</text><text x="164.7" y="164.5" font-size="4.6" fill="#3a3a3a">=</text><text x="169.2" y="164.8" font-size="6.2" stroke="#000" stroke-width="0.22">1.6</text><text x="178.7" y="164.5" font-size="4.6" fill="#3a3a3a">+</text><text x="182.7" y="164.8" font-size="6.2" stroke="#000" stroke-width="0.22">0.46</text><text x="195.6" y="164.5" font-size="4.6" fill="#3a3a3a">·</text><text x="198.5" y="164.8" font-style="italic" stroke="#000" stroke-width="0.18">x,</text><text x="207.1" y="164.8" font-style="italic" stroke="#000" stroke-width="0.18">r</text><text x="209.3" y="162.3" font-size="3.9" stroke="#000" stroke-width="0.08">2</text><text x="212.8" y="164.5" font-size="4.6" fill="#3a3a3a">=</text><text x="233.3" y="164.8" text-anchor="end" font-size="6.2" stroke="#000" stroke-width="0.22">0.087</text></g>
<text transform="translate(145.0,199.8) rotate(-90)" font-size="6.2" fill="#111" stroke="#111" stroke-width="0.1" text-anchor="middle">Kama Muta</text>
<text x="276" y="264.2" font-size="5.9" fill="#111" stroke="#111" stroke-width="0.08" text-anchor="middle">Empathic Concern</text>
</svg>
</body></html>
